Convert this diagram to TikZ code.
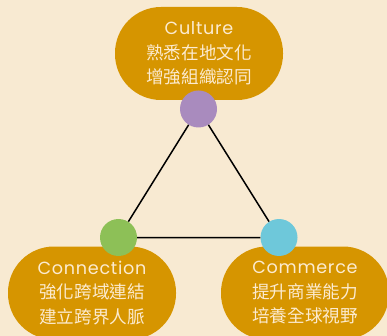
\documentclass[tikz,border=0pt]{standalone}
\usepackage{fontspec}
\setmainfont{Poppins}[LetterSpace=4]
\newfontfamily\cjk{Noto Sans CJK TC}
\definecolor{bg}{HTML}{F8EAD2}
\definecolor{pill}{HTML}{D69500}
\definecolor{ptxt}{HTML}{FCEBD0}
\definecolor{cpurple}{HTML}{A98BBE}
\definecolor{cgreen}{HTML}{8DC057}
\definecolor{cblue}{HTML}{6EC8DA}
\tikzset{
  pillbox/.style={rectangle, rounded corners=46pt, fill=pill, minimum width=168pt, minimum height=93pt, inner sep=0pt, text=ptxt, align=center, font=\fontsize{17.6}{24.5}\selectfont},
  dot/.style={circle, minimum size=37pt, inner sep=0pt},
  tri/.style={line width=1.5pt, black}
}
\begin{document}
\begin{tikzpicture}[x=1pt,y=-1pt]
\fill[bg] (0,0) rectangle (387,336);
\useasboundingbox (0,0) rectangle (387,336);
\clip (0,0) rectangle (387,336);
\node[pillbox] (top) at (199,53.5) {Culture\\{\cjk 熟悉在地文化}\\{\cjk 增強組織認同}};
\node[pillbox] (left) at (92,293) {Connection\\{\cjk 強化跨域連結}\\{\cjk 建立跨界人脈}};
\node[pillbox] (right) at (305,293) {Commerce\\{\cjk 提升商業能力}\\{\cjk 培養全球視野}};
\node[dot, fill=cpurple] (p) at (198.5,109) {};
\node[dot, fill=cgreen] (g) at (118.5,237.5) {};
\node[dot, fill=cblue] (b) at (279,237.5) {};
\draw[tri] (p) -- (g) -- (b) -- (p);
\end{tikzpicture}
\end{document}
